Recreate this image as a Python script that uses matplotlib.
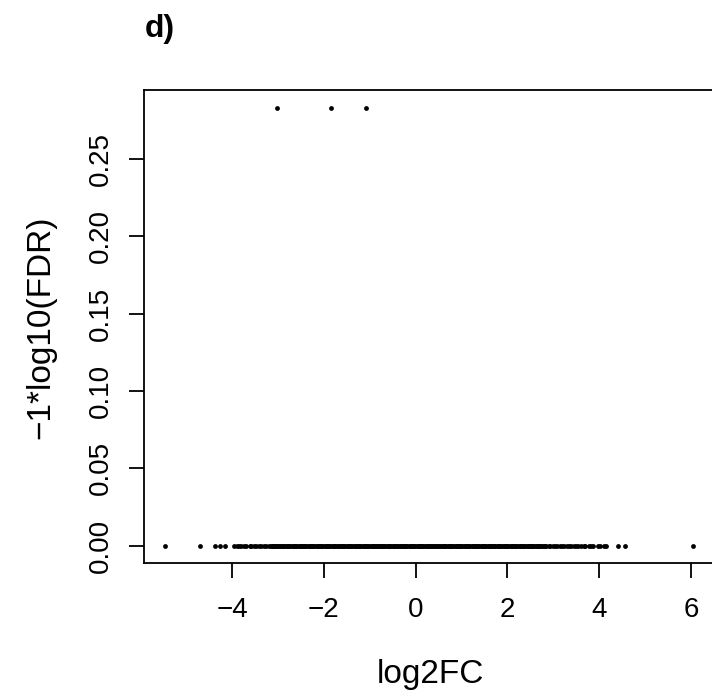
import matplotlib
matplotlib.use("Agg")
import matplotlib.pyplot as plt

plt.rcParams['font.family'] = ['Liberation Sans', 'DejaVu Sans']

# log2FC values of genes with -log10(FDR) == 0 (tails and sparse parts)
log2fc_zero = [
    -5.46, -4.70, -4.37, -4.26, -4.15,
    -3.95, -3.90, -3.84, -3.80, -3.73, -3.69, -3.62, -3.58, -3.52, -3.47,
    -3.41, -3.37, -3.31, -3.26, -3.20,
    -3.15, -3.10, -3.06, -3.01, -2.95, -2.90, -2.86, -2.81, -2.75, -2.70,
    -2.66, -2.61, -2.55, -2.50, -2.46, -2.41, -2.35, -2.30, -2.26, -2.21,
    -2.15, -2.10, -2.06, -2.01, -1.95, -1.90, -1.86, -1.81, -1.75, -1.70,
    -1.66, -1.61, -1.55, -1.50, -1.46, -1.41, -1.35, -1.30, -1.26, -1.21,
    -1.15, -1.10, -1.06, -1.01, -0.95, -0.90, -0.86, -0.81, -0.75, -0.70,
    -0.66, -0.61, -0.55, -0.50, -0.46, -0.41, -0.35, -0.30, -0.26, -0.21,
    -0.15, -0.10, -0.06, -0.01, 0.05, 0.10, 0.14, 0.19, 0.25, 0.30,
    0.34, 0.39, 0.45, 0.50, 0.54, 0.59, 0.65, 0.70, 0.74, 0.79,
    0.85, 0.90, 0.94, 0.99, 1.05, 1.10, 1.14, 1.19, 1.25, 1.30,
    1.34, 1.39, 1.45, 1.50, 1.54, 1.59, 1.65, 1.70, 1.74, 1.79,
    1.85, 1.90, 1.94, 1.99, 2.05, 2.10, 2.14, 2.19, 2.25, 2.30,
    2.34, 2.39, 2.45, 2.50, 2.54, 2.59, 2.65, 2.70, 2.74, 2.79, 2.84,
    2.90, 2.94, 2.99, 3.04, 3.08, 3.14, 3.19, 3.23, 3.30, 3.34,
    3.39, 3.45, 3.50, 3.54, 3.61, 3.66, 3.70, 3.78, 3.82, 3.87,
    3.97, 4.02, 4.10, 4.15, 4.42, 4.56, 6.05,
]
# more genes in the dense core, also at -log10(FDR) == 0
log2fc_zero_core = [
    -3.13, -3.08, -3.03, -2.98, -2.93, -2.88, -2.83, -2.78, -2.73, -2.68,
    -2.63, -2.58, -2.53, -2.48, -2.43, -2.38, -2.33, -2.28, -2.23, -2.18,
    -2.13, -2.08, -2.03, -1.98, -1.93, -1.88, -1.83, -1.78, -1.73, -1.68,
    -1.63, -1.58, -1.53, -1.48, -1.43, -1.38, -1.33, -1.28, -1.23, -1.18,
    -1.13, -1.08, -1.03, -0.98, -0.93, -0.88, -0.83, -0.78, -0.73, -0.68,
    -0.63, -0.58, -0.53, -0.48, -0.43, -0.38, -0.33, -0.28, -0.23, -0.18,
    -0.13, -0.08, -0.03, 0.02, 0.07, 0.12, 0.17, 0.22, 0.27, 0.32,
    0.37, 0.42, 0.47, 0.52, 0.57, 0.62, 0.67, 0.72, 0.77, 0.82,
    0.87, 0.92, 0.97, 1.02, 1.07, 1.12, 1.17, 1.22, 1.27, 1.32,
    1.37, 1.42, 1.47, 1.52, 1.57, 1.62, 1.67, 1.72, 1.77, 1.82,
    1.87, 1.92, 1.97, 2.02, 2.07, 2.12, 2.17, 2.22, 2.27, 2.32,
    2.37, 2.42, 2.47, 2.52, 2.57, 2.62, 2.67, 2.72, 2.77, 2.82,
]

# genes with a non-zero -log10(FDR)
log2fc_top = [-3.02, -1.84, -1.08]
fdr_top = [0.283, 0.283, 0.283]

x_ticks = [-4, -2, 0, 2, 4, 6]
y_ticks = [0.00, 0.05, 0.10, 0.15, 0.20, 0.25]
y_tick_labels = ["0.00", "0.05", "0.10", "0.15", "0.20", "0.25"]

x_all = log2fc_zero + log2fc_zero_core + log2fc_top
y_all = [0.0] * (len(log2fc_zero) + len(log2fc_zero_core)) + fdr_top

fig = plt.figure(figsize=(7.12, 6.98), dpi=100)
ax = fig.add_axes([0.2022, 0.193, 0.801, 0.6777])

ax.scatter(x_all, y_all, s=12, c='black', marker='o', linewidths=0)

xmin, xmax = min(x_all), max(x_all)
ymin, ymax = min(y_all), max(y_all)
px = 0.04 * (xmax - xmin)
py = 0.04 * (ymax - ymin)
ax.set_xlim(xmin - px, xmax + px)
ax.set_ylim(ymin - py, ymax + py)

for sp in ax.spines.values():
    sp.set_linewidth(1.3)
    sp.set_color('black')

ax.set_xticks(x_ticks)
ax.set_xticklabels([str(t).replace('-', '\u2212') for t in x_ticks])
ax.set_yticks(y_ticks)
ax.set_yticklabels(y_tick_labels, rotation=90, va='center')
ax.tick_params(axis='both', direction='out', length=11, width=1.3,
               labelsize=20, color='black')
ax.tick_params(axis='x', pad=13)
ax.tick_params(axis='y', pad=11)

fig.text(430 / 712, 1 - 675 / 698, "log2FC", fontsize=24,
         ha='center', va='center')
fig.text(41 / 712, 1 - 327 / 698, "\u22121*log10(FDR)", fontsize=24,
         ha='center', va='center', rotation=90)
fig.text(145 / 712, 1 - 37 / 698, "d)", fontsize=23, fontweight='bold',
         ha='left', va='baseline')

fig.savefig("out.png", dpi=100)
